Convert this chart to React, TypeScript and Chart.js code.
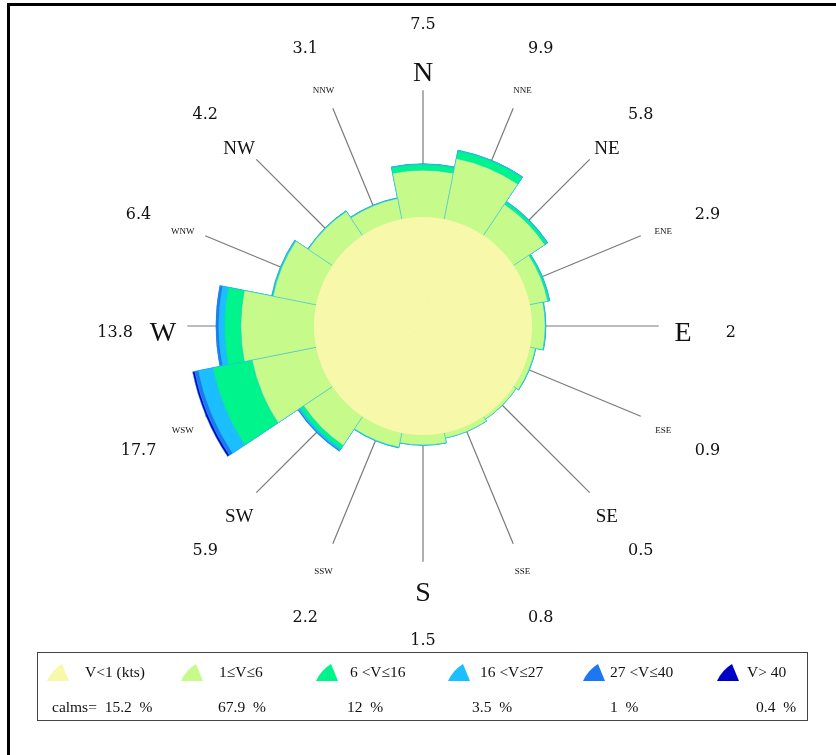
import React, { useEffect, useRef } from "react";
import { Chart, registerables } from "chart.js";

Chart.register(...registerables);

// ---------- DATA ----------
const DIRECTIONS = ["N", "NNE", "NE", "ENE", "E", "ESE", "SE", "SSE", "S", "SSW", "SW", "WSW", "W", "WNW", "NW", "NNW"];
const DIR_TOTALS = ["7.5", "9.9", "5.8", "2.9", "2", "0.9", "0.5", "0.8", "1.5", "2.2", "5.9", "17.7", "13.8", "6.4", "4.2", "3.1"];
const CALM = 15.2;
// per-direction frequency (%) of each speed class
const V_1_6 = [6.6, 8.7, 5.3, 2.6, 1.9, 0.85, 0.5, 0.8, 1.45, 2.1, 4.9, 9.2, 10.3, 6.2, 4.1, 3.0];
const V_6_16 = [0.8, 1.1, 0.4, 0.25, 0.05, 0.05, 0, 0, 0.05, 0.05, 0.6, 5.6, 2.3, 0.1, 0.05, 0.05];
const V_16_27 = [0.1, 0.1, 0.1, 0.05, 0.05, 0, 0, 0, 0, 0.05, 0.25, 2.05, 0.8, 0.1, 0.05, 0.05];
const V_27_40 = [0, 0, 0, 0, 0, 0, 0, 0, 0, 0, 0.1, 0.55, 0.35, 0, 0, 0];
const V_40 = [0, 0, 0, 0, 0, 0, 0, 0, 0, 0, 0.05, 0.3, 0.05, 0, 0, 0];

const CLASS_LABELS = ["V<1 (kts)", "1\u2264V\u22646", "6 <V\u226416", "16 <V\u226427", "27 <V\u226440", "V> 40"];
const CLASS_TOTALS = ["calms=  15.2  %", "67.9  %", "12  %", "3.5  %", "1  %", "0.4  %"];
const CLASS_COLORS = ["#F7F8AA", "#C6FA8A", "#00F48C", "#1BBEFF", "#1B78F2", "#0000C4"];

const R_MAX = 33.6;
const SPOKE_VALUE = 33.0;
const DIR_LABEL_VALUE = 36.4;
const PCT_LABEL_VALUE = 43.1;

// ---------- helpers ----------
function cumulative(): number[][] {
  const classes = [V_1_6, V_6_16, V_16_27, V_27_40, V_40];
  const out: number[][] = [DIRECTIONS.map(() => CALM)];
  let run = DIRECTIONS.map(() => CALM);
  for (const c of classes) {
    run = run.map((v, i) => v + c[i]);
    out.push(run.slice());
  }
  return out;
}

const roseDecor = {
  id: "roseDecor",
  beforeDatasetsDraw(chart: any) {
    const r = chart.scales.r;
    const ctx = chart.ctx;
    const seg = (Math.PI * 2) / DIRECTIONS.length;
    ctx.save();
    ctx.strokeStyle = "#7a7a7a";
    ctx.lineWidth = 1.2;
    const d0 = r.getDistanceFromCenterForValue(CALM);
    const d1 = r.getDistanceFromCenterForValue(SPOKE_VALUE);
    DIRECTIONS.forEach((_, i) => {
      const a = r.getIndexAngle(i) + seg / 2 - Math.PI / 2;
      ctx.beginPath();
      ctx.moveTo(r.xCenter + Math.cos(a) * d0, r.yCenter + Math.sin(a) * d0);
      ctx.lineTo(r.xCenter + Math.cos(a) * d1, r.yCenter + Math.sin(a) * d1);
      ctx.stroke();
    });
    ctx.restore();
  },
  afterDraw(chart: any) {
    const r = chart.scales.r;
    const ctx = chart.ctx;
    const seg = (Math.PI * 2) / DIRECTIONS.length;
    const dl = r.getDistanceFromCenterForValue(DIR_LABEL_VALUE);
    const dp = r.getDistanceFromCenterForValue(PCT_LABEL_VALUE);
    ctx.save();
    ctx.textAlign = "center";
    ctx.textBaseline = "middle";
    ctx.fillStyle = "#111";
    DIRECTIONS.forEach((name, i) => {
      const a = r.getIndexAngle(i) + seg / 2 - Math.PI / 2;
      let size = 9;
      let dy = 5;
      if (i % 4 === 0) { size = 28; dy = 8; }
      else if (i % 2 === 0) { size = 19; dy = 7; }
      ctx.font = `${size}px "Liberation Serif", serif`;
      ctx.fillText(name, r.xCenter + Math.cos(a) * dl, r.yCenter + Math.sin(a) * dl + dy);
      ctx.font = `16px "DejaVu Serif", serif`;
      ctx.fillText(DIR_TOTALS[i], r.xCenter + Math.cos(a) * dp, r.yCenter + Math.sin(a) * dp + 7);
    });
    ctx.restore();
  },
};

function LegendIcon({ color }: { color: string }) {
  return (
    <svg width="22" height="17" viewBox="0 0 22 17" style={{ display: "block" }}>
      <path d="M15 0 Q5 6 0 17 L22 17 Z" fill={color} />
    </svg>
  );
}

const ICON_X = [47, 181, 316, 448, 583, 717];
const TEXT_X = [85, 219, 350, 480, 610, 747];
const TOTAL_X = [52, 218, 347, 472, 610, 756];

export default function App() {
  const canvasRef = useRef<HTMLCanvasElement | null>(null);

  useEffect(() => {
    const canvas = canvasRef.current;
    if (!canvas) return;
    const cum = cumulative();
    const chart = new Chart(canvas, {
      type: "polarArea",
      data: {
        labels: DIRECTIONS,
        datasets: cum.map((vals, k) => ({
          label: CLASS_LABELS[k],
          data: vals,
          backgroundColor: CLASS_COLORS[k],
          borderColor: k === 0 ? CLASS_COLORS[0] : "rgba(40,185,235,0.55)",
          borderWidth: k === 0 ? 1 : 0.8,
        })),
      },
      options: {
        responsive: false,
        animation: false,
        devicePixelRatio: 1,
        layout: { padding: { left: 183, right: 173, top: 86, bottom: 189 } },
        plugins: { legend: { display: false }, tooltip: { enabled: false } },
        scales: {
          r: {
            min: 0,
            max: R_MAX,
            startAngle: -11.25,
            grid: { display: false },
            angleLines: { display: false },
            ticks: { display: false },
            pointLabels: { display: false },
          },
        },
      },
      plugins: [roseDecor],
    } as any);
    return () => chart.destroy();
  }, []);

  const font = '"Liberation Serif", serif';
  return (
    <div style={{ position: "absolute", left: 0, top: 0, width: 836, height: 755, background: "#fff", overflow: "hidden" }}>
      <div style={{ position: "absolute", left: 7, top: 3, width: 840, height: 760, borderTop: "3px solid #000", borderLeft: "3px solid #000" }} />
      <canvas ref={canvasRef} width={836} height={755} style={{ position: "absolute", left: 0, top: 0 }} />
      <div style={{ position: "absolute", left: 37, top: 652, width: 769, height: 67, border: "1.5px solid #444", fontFamily: font, fontSize: 15.5, color: "#111" }}>
        {CLASS_LABELS.map((lab, k) => (
          <React.Fragment key={k}>
            <div style={{ position: "absolute", left: ICON_X[k] - 38, top: 11 }}>
              <LegendIcon color={CLASS_COLORS[k]} />
            </div>
            <div style={{ position: "absolute", left: TEXT_X[k] - 38, top: 10, whiteSpace: "pre", lineHeight: "18px" }}>{lab}</div>
            <div style={{ position: "absolute", left: TOTAL_X[k] - 38, top: 45, whiteSpace: "pre", lineHeight: "18px" }}>{CLASS_TOTALS[k]}</div>
          </React.Fragment>
        ))}
      </div>
    </div>
  );
}
